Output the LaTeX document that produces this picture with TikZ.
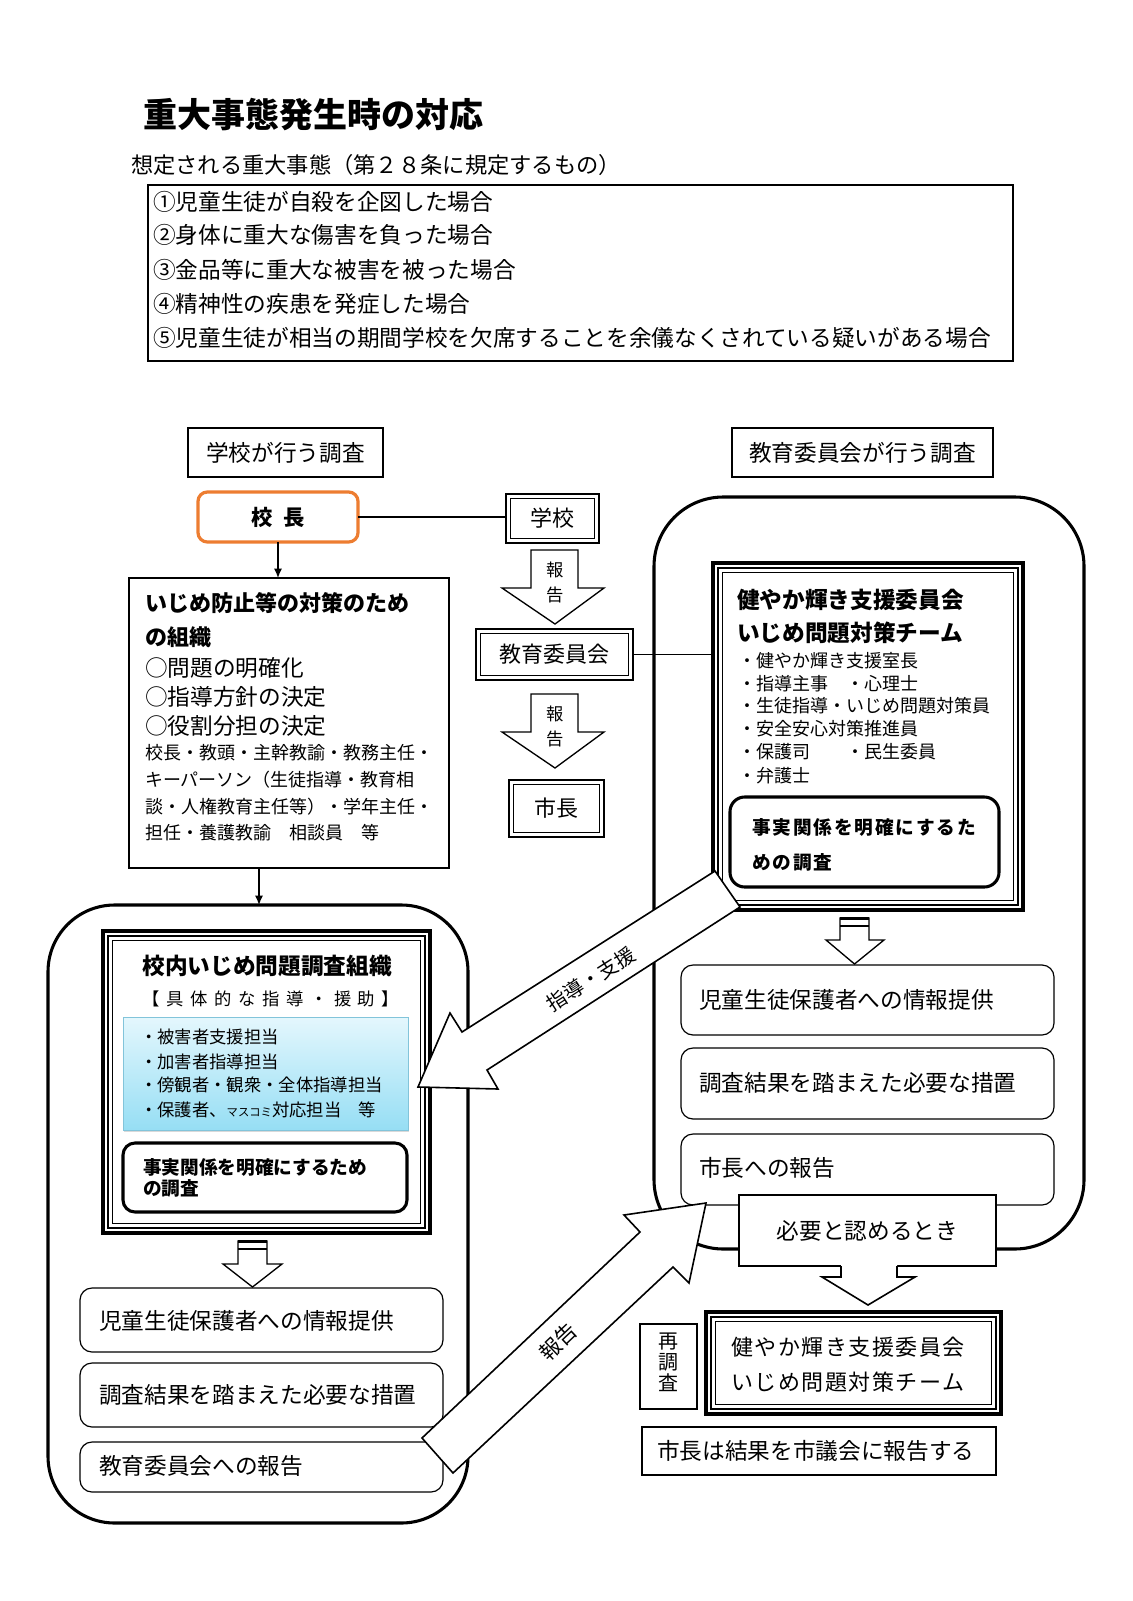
\documentclass[tikz,border=0pt]{standalone}
\usepackage{fontspec}
\setmainfont{Noto Sans CJK JP}
\usetikzlibrary{fit,arrows.meta,calc,shadows}
\newcommand\fsz[1]{\fontsize{#1}{#1}\selectfont}
\definecolor{orangeB}{RGB}{237,125,49}
\definecolor{lbTop}{RGB}{228,247,253}
\definecolor{lbBot}{RGB}{150,222,244}
\definecolor{lbLine}{RGB}{130,196,218}
\newcommand\dblin[1]{\draw[line width=0.8pt] ([shift={(4.5,4.5)}]#1.north west) rectangle ([shift={(-4.5,-4.5)}]#1.south east);}
\newcommand\trpin[1]{\draw[line width=1.4pt] ([shift={(5,5)}]#1.north west) rectangle ([shift={(-5,-5)}]#1.south east);
  \draw[line width=0.8pt] ([shift={(9.5,9.5)}]#1.north west) rectangle ([shift={(-9.5,-9.5)}]#1.south east);}
\begin{document}
\begin{tikzpicture}[x=0.75pt,y=-0.75pt,
  every node/.style={inner sep=0pt,outer sep=0pt},
  txt/.style={anchor=west},
  boxfit/.style={draw,line width=1pt,fit={#1}},
  heavy/.style={line width=2.3pt},
  rbox/.style={draw,line width=0.9pt,rounded corners=9pt},
  blk/.style={draw,line width=1pt,fill=white,line join=miter},
  arr/.style={-{Latex[length=7pt,width=6pt]},line width=1pt}
]
\useasboundingbox (0,0) rectangle (1132,1601);

% ---------- header ----------
\node[txt,font=\fsz{25.5}\bfseries] (title) at (143,115) {重大事態発生時の対応};
\node[txt,font=\fsz{16.7}] (subtitle) at (131,165) {想定される重大事態（第２８条に規定するもの）};
\node[boxfit={(148,185) (1013,361)}] (cases) {};
\foreach \t/\yy [count=\i] in {①児童生徒が自殺を企図した場合/202,②身体に重大な傷害を負った場合/235,③金品等に重大な被害を被った場合/270,④精神性の疾患を発症した場合/304,⑤児童生徒が相当の期間学校を欠席することを余儀なくされている疑いがある場合/338}
  \node[txt,font=\fsz{17}] (case\i) at (153,\yy) {\t};

% ---------- column headers ----------
\node[boxfit={(188,428) (383,477)}] (hdrL) {};
\node[font=\fsz{17}] (hdrLt) at (hdrL.center) {学校が行う調査};
\node[boxfit={(732,428) (993,477)}] (hdrR) {};
\node[font=\fsz{17}] (hdrRt) at (hdrR.center) {教育委員会が行う調査};

% ---------- principal ----------
\node[draw=orangeB,line width=2.4pt,rounded corners=7pt,fit={(198,492) (358,542)}] (kocho) {};
\node[font=\fsz{16}\bfseries] (kochot) at (kocho.center) {校\hspace{0.5em}長};

% ---------- centre column ----------
\node[draw,line width=2.2pt,fit={(506,494) (599,543)}] (gakko) {};
\dblin{gakko}
\node[font=\fsz{16.5}] (gakkot) at (gakko.center) {学校};
\node[draw,line width=2.2pt,fit={(476,629) (633,680)}] (kyoiku) {};
\dblin{kyoiku}
\node[font=\fsz{16.5}] (kyoikut) at (kyoiku.center) {教育委員会};
\node[draw,line width=2.2pt,fit={(509,780) (604,837)}] (shicho) {};
\dblin{shicho}
\node[font=\fsz{16.5}] (shichot) at (shicho.center) {市長};
\draw[line width=1pt] (kocho.east) -- (kocho.east -| gakko.west);

% report arrows (vertical)
\draw[blk] (531,550) -- (578,550) -- (578,588) -- (604,588) -- (555,624) -- (502,588) -- (531,588) -- cycle;
\node[font=\fsz{13}] (hou1) at (555,570) {報};
\node[font=\fsz{13}] (koku1) at (555,595) {告};
\draw[blk] (531,694) -- (578,694) -- (578,732) -- (604,732) -- (555,768) -- (502,732) -- (531,732) -- cycle;
\node[font=\fsz{13}] (hou2) at (555,714) {報};
\node[font=\fsz{13}] (koku2) at (555,739) {告};

% ---------- school organisation box ----------
\node[boxfit={(129,578) (449,868)}] (ijime) {};
\draw[arr] (kocho.south) -- (kocho.south |- ijime.north);
\node[txt,font=\fsz{16.5}\bfseries] (ij1) at (145,603) {いじめ防止等の対策のため};
\node[txt,font=\fsz{16.5}\bfseries] (ij2) at (145,637) {の組織};
\node[txt,font=\fsz{17}] (ij3) at (145,668) {○問題の明確化};
\node[txt,font=\fsz{17}] (ij4) at (145,697) {○指導方針の決定};
\node[txt,font=\fsz{17}] (ij5) at (145,726) {○役割分担の決定};
\node[txt,font=\fsz{13.5}] (ij6) at (145,753) {校長・教頭・主幹教諭・教務主任・};
\node[txt,font=\fsz{13.5}] (ij7) at (145,780) {キーパーソン（生徒指導・教育相};
\node[txt,font=\fsz{13.5}] (ij8) at (145,807) {談・人権教育主任等）・学年主任・};
\node[txt,font=\fsz{13.5}] (ij9) at (145,833) {担任・養護教諭　相談員　等};

% ---------- left big frame ----------
\node[draw,heavy,rounded corners=50pt,fit={(48,905) (468,1523)}] (lbig) {};
\coordinate (cx) at (259,0);
\draw[arr] (ijime.south -| cx) -- (lbig.north -| cx);

\node[draw,line width=2.3pt,fit={(103,931) (430,1233)}] (lteam) {};
\trpin{lteam}
\node[font=\fsz{17}\bfseries] (lt1) at (267,966) {校内いじめ問題調査組織};
\node[font=\fsz{13}\addfontfeature{LetterSpace=38}] (lt2) at (271,999) {【具体的な指導・援助】};
\node[fit={(123,1017) (408,1130)},draw=lbLine,line width=0.6pt,top color=lbTop,bottom color=lbBot,
      drop shadow={opacity=0.3,shadow xshift=0.6pt,shadow yshift=-1.6pt}] (roles) {};
\node[txt,font=\fsz{13}] (r1) at (140,1037) {・被害者支援担当};
\node[txt,font=\fsz{13}] (r2) at (140,1062) {・加害者指導担当};
\node[txt,font=\fsz{13}] (r3) at (140,1085) {・傍観者・観衆・全体指導担当};
\node[txt,font=\fsz{13}] (r4) at (140,1110) {・保護者、{\fsz{8.5}マスコミ}対応担当　等};
\node[draw,heavy,rounded corners=9pt,fit={(123,1143) (407,1212)}] (lfact) {};
\node[txt,font=\fsz{14}\bfseries] (lf1) at (143,1167) {事実関係を明確にするため};
\node[txt,font=\fsz{14}\bfseries] (lf2) at (143,1188) {の調査};

% striped down arrow (left)
\draw[blk] (238,1241) -- (267,1241) -- (267,1264) -- (282,1264) -- (252.5,1287) -- (223,1264) -- (238,1264) -- cycle;
\draw[line width=1.8pt] (238,1241.5) -- (267,1241.5);
\draw[line width=1.8pt] (238,1249) -- (267,1249);

\node[rbox,fit={(80,1288) (443,1352)}] (lb1) {};
\node[txt,font=\fsz{17}] at (99,1321) (lb1t) {児童生徒保護者への情報提供};
\node[rbox,fit={(80,1363) (443,1427)}] (lb2) {};
\node[txt,font=\fsz{17}] at (99,1395) (lb2t) {調査結果を踏まえた必要な措置};
\node[rbox,fit={(80,1442) (443,1492)}] (lb3) {};
\node[txt,font=\fsz{17}] at (99,1466) (lb3t) {教育委員会への報告};

% ---------- right big frame ----------
\node[draw,heavy,rounded corners=52pt,fit={(654,497) (1084,1249)}] (rbig) {};
\node[draw,line width=2.3pt,fit={(713,563) (1023,910)}] (rteam) {};
\trpin{rteam}
\draw[line width=1pt] (kyoiku.east) -- (kyoiku.east -| rteam.west);
\node[txt,font=\fsz{17}\bfseries] (rt1) at (737,600) {健やか輝き支援委員会};
\node[txt,font=\fsz{17}\bfseries] (rt2) at (737,633) {いじめ問題対策チーム};
\node[txt,font=\fsz{13.5}] (m1) at (738,661) {・健やか輝き支援室長};
\node[txt,font=\fsz{13.5}] (m2) at (738,684) {・指導主事　・心理士};
\node[txt,font=\fsz{13.5}] (m3) at (738,706) {・生徒指導・いじめ問題対策員};
\node[txt,font=\fsz{13.5}] (m4) at (738,729) {・安全安心対策推進員};
\node[txt,font=\fsz{13.5}] (m5) at (738,752) {・保護司　　・民生委員};
\node[txt,font=\fsz{13.5}] (m6) at (738,776) {・弁護士};
\node[draw,heavy,rounded corners=11pt,fit={(730,797) (999,887)}] (rfact) {};
\node[txt,font=\fsz{14}\bfseries\addfontfeature{LetterSpace=10}] (rf1) at (752,827) {事実関係を明確にするた};
\node[txt,font=\fsz{14}\bfseries\addfontfeature{LetterSpace=10}] (rf2) at (752,862) {めの調査};

% striped down arrow (right)
\draw[blk] (840,918) -- (869,918) -- (869,940) -- (884,940) -- (854.5,964) -- (826,940) -- (840,940) -- cycle;
\draw[line width=1.8pt] (840,918.5) -- (869,918.5);
\draw[line width=1.8pt] (840,926) -- (869,926);

\node[rbox,fit={(681,965) (1054,1035)}] (rb1) {};
\node[txt,font=\fsz{17}] at (699,1000) (rb1t) {児童生徒保護者への情報提供};
\node[rbox,fit={(681,1048) (1054,1119)}] (rb2) {};
\node[txt,font=\fsz{17}] at (699,1083) (rb2t) {調査結果を踏まえた必要な措置};
\node[rbox,fit={(681,1134) (1054,1205)}] (rb3) {};
\node[txt,font=\fsz{17}] at (699,1168) (rb3t) {市長への報告};

% necessary-case box and arrow
\node[draw,fill=white,line width=1.2pt,fit={(739,1195) (996,1266)}] (hitsuyo) {};
\node[font=\fsz{17}] (hitsuyot) at (hitsuyo.center) {必要と認めるとき};
\fill[white] (841,1264) -- (897,1264) -- (897,1277) -- (915,1277) -- (868,1305) -- (822,1277) -- (841,1277) -- cycle;
\draw[line width=1.2pt,line join=miter] (841,1266) -- (841,1277) -- (822,1277) -- (868,1305) -- (915,1277) -- (897,1277) -- (897,1266);

% reinvestigation
\node[draw,line width=0.8pt,fit={(640,1324) (697,1409)}] (sai) {};
\node[font=\fsz{15}] (sai1) at (668.5,1342) {再};
\node[font=\fsz{15}] (sai2) at (668.5,1362) {調};
\node[font=\fsz{15}] (sai3) at (668.5,1383) {査};
\node[draw,line width=2.3pt,fit={(706,1312) (1001,1414)}] (bteam) {};
\trpin{bteam}
\node[txt,font=\fsz{16.5}\addfontfeature{LetterSpace=7}] (bt1) at (731,1347) {健やか輝き支援委員会};
\node[txt,font=\fsz{16.5}\addfontfeature{LetterSpace=7}] (bt2) at (731,1382) {いじめ問題対策チーム};
\node[boxfit={(642,1427) (996,1475)}] (council) {};
\node[txt,font=\fsz{17}] (councilt) at (657,1451) {市長は結果を市議会に報告する};

% ---------- diagonal block arrows ----------
\draw[blk,line width=1.2pt] (715,871) -- (740,907) -- (487,1070) -- (498,1089) -- (418,1087) -- (450,1013) -- (462,1032) -- cycle;
\node[font=\fsz{15},rotate=32.6] (shido) at (591,979) {指導・支援};
\draw[blk,line width=1.2pt] (422,1438) -- (453,1473) -- (673,1267) -- (689,1283) -- (706,1203) -- (624,1215) -- (640,1232) -- cycle;
\node[font=\fsz{16},rotate=43.4] (houkoku) at (558,1342) {報告};
\end{tikzpicture}
\end{document}
